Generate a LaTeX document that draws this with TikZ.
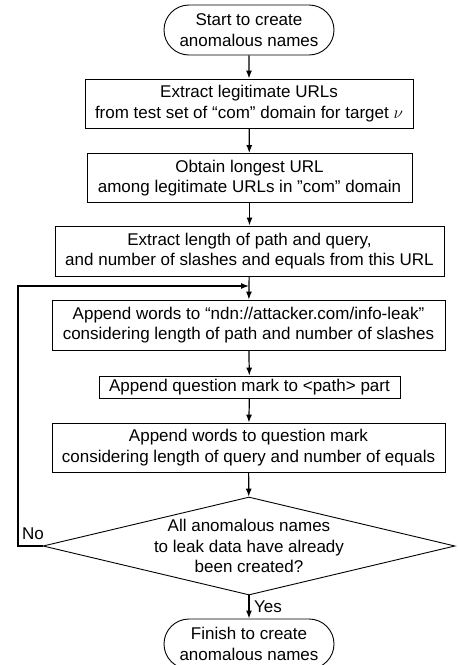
\documentclass[tikz,border=0pt]{standalone}
\usepackage{fontspec}
\setmainfont{Liberation Sans}
\usetikzlibrary{shapes.misc,shapes.geometric,arrows.meta}
\begin{document}
\begin{tikzpicture}[x=1pt,y=1pt,
  every node/.style={font=\fontsize{17}{20.5}\selectfont, align=center, inner sep=0pt},
  box/.style={draw, line width=0.9pt, rectangle},
  term/.style={draw, line width=0.9pt, rounded rectangle, minimum width=170pt, minimum height=50pt},
  flow/.style={line width=1.2pt, -{Latex[length=8pt,width=6pt]}},
  lbl/.style={font=\fontsize{17}{20.5}\selectfont}
]
\useasboundingbox (0,0) rectangle (458,-665);
\node[term] (start) at (249,-30) {Start to create\\anomalous names};
\node[box, minimum width=328pt, minimum height=49pt] (b1) at (249,-103.5) {Extract legitimate URLs\\from test set of “com” domain for target $\nu$};
\node[box, minimum width=325pt, minimum height=49pt] (b2) at (249.5,-178) {Obtain longest URL\\among legitimate URLs in \char34 com” domain};
\node[box, minimum width=389pt, minimum height=50pt] (b3) at (249.5,-251) {Extract length of path and query,\\and number of slashes and equals from this URL};
\node[box, minimum width=393pt, minimum height=50pt] (b4) at (248.5,-325) {Append words to “ndn://attacker.com/info-leak”\\considering length of path and number of slashes};
\node[box, minimum width=301pt, minimum height=22pt] (b5) at (249.5,-387) {Append question mark to <path> part};
\node[box, minimum width=393pt, minimum height=49pt] (b6) at (248.5,-447.5) {Append words to question mark\\considering length of query and number of equals};
\node[draw, line width=0.9pt, diamond, aspect=4.2, minimum width=412pt, minimum height=98pt] (dec) at (249,-546) {};
\node (dectext) at (dec.center) {All anomalous names\\to leak data have already\\been created?};
\node[term, minimum height=50pt] (end) at (249,-644) {Finish to create\\anomalous names};

\coordinate (m) at (249,-286);
\coordinate (lx) at (18,-286);

\draw[flow] (start) -- (b1);
\draw[flow] (b1) -- (b2);
\draw[flow] (b2) -- (b3);
\draw[flow] (b3) -- (b4);
\draw[flow] (b4) -- (b5);
\draw[flow] (b5) -- (b6);
\draw[flow] (b6) -- (dec);
\draw[flow] (dec) -- (end);
\draw[flow] (dec.west) -| (lx) -- (m);

\node[lbl] (no) at (33,-534) {No};
\node[lbl] (yes) at (268,-607) {Yes};
\end{tikzpicture}
\end{document}
